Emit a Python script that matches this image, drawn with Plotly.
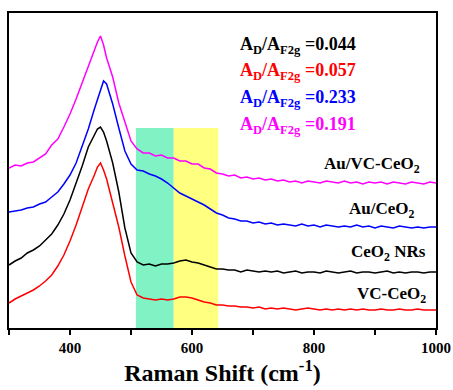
import plotly.graph_objects as go

wavenumber = list(range(300, 450, 10)) + [445, 450, 455, 460] + list(range(470, 1001, 10))

au_vc_ceo2 = [160, 163, 162, 165, 166, 170, 174, 183, 189, 201, 214, 229, 245, 263, 279,
              286, 292, 283, 270,
              251, 225, 206, 187, 179, 175, 175, 172, 173, 170,
              170, 167, 167, 164, 164, 160, 159, 155, 154, 152,
              153, 150, 151, 149, 150, 148, 149, 147, 148, 146,
              147, 145, 147, 146, 145, 147, 146, 145, 147, 145,
              146, 144, 146, 145, 146, 144, 146, 145, 144, 146,
              145, 144, 146, 145]
au_ceo2 = [116, 117, 118, 120, 121, 124, 126, 131, 136, 144, 153, 165, 181, 199, 219,
           228, 238, 247, 244,
           224, 200, 177, 164, 158, 157, 154, 152, 149, 145,
           140, 135, 132, 129, 126, 123, 119, 115, 113, 110,
           109, 107, 107, 105, 106, 104, 105, 103, 104, 103,
           102, 104, 102, 103, 101, 103, 102, 101, 102, 101,
           103, 101, 102, 100, 102, 101, 100, 102, 101, 100,
           101, 100, 101, 101]
ceo2_nrs = [63, 67, 70, 75, 78, 82, 88, 94, 103, 114, 128, 144, 162, 181, 193,
            199, 201, 196, 187,
            165, 136, 100, 75, 66, 63, 64, 62, 64, 64,
            65, 67, 68, 66, 65, 63, 61, 59, 59, 58,
            58, 56, 58, 57, 56, 57, 56, 57, 55, 56,
            57, 55, 56, 56, 55, 57, 56, 55, 56, 57,
            55, 56, 56, 55, 56, 57, 55, 56, 55, 56,
            56, 55, 56, 56]
vc_ceo2 = [25, 29, 32, 35, 38, 42, 47, 53, 62, 73, 87, 103, 122, 139, 153,
           161, 165, 158, 149,
           125, 101, 72, 46, 33, 30, 29, 28, 29, 28,
           29, 31, 31, 30, 28, 26, 25, 23, 23, 22,
           22, 21, 21, 20, 21, 19, 20, 19, 20, 19,
           18, 19, 20, 19, 18, 19, 18, 19, 18, 19,
           18, 19, 18, 18, 19, 18, 18, 19, 18, 18,
           19, 18, 18, 18]

series_names = ["Au/VC-CeO<sub>2</sub>", "Au/CeO<sub>2</sub>", "CeO<sub>2</sub> NRs", "VC-CeO<sub>2</sub>"]
series_colors = ["#FF00FF", "#0000FF", "#000000", "#FF0000"]
series_values = [au_vc_ceo2, au_ceo2, ceo2_nrs, vc_ceo2]

ratio_values = ["0.044", "0.057", "0.233", "0.191"]
ratio_colors = ["#000000", "#FF0000", "#0000FF", "#FF00FF"]

green_band = [508, 570]
yellow_band = [570, 643]
band_top = 200

tick_vals = [300, 400, 500, 600, 700, 800, 900, 1000]
tick_text = ["", "400", "", "600", "", "800", "", "1000"]

FONT = "Liberation Serif, Times New Roman, serif"

fig = go.Figure()

fig.add_shape(type="rect", x0=green_band[0], x1=green_band[1], y0=0, y1=band_top,
              fillcolor="#80F2C4", line_width=0, layer="below")
fig.add_shape(type="rect", x0=yellow_band[0], x1=yellow_band[1], y0=0, y1=band_top,
              fillcolor="#FFFF80", line_width=0, layer="below")

for name, color, vals in zip(series_names, series_colors, series_values):
    fig.add_trace(go.Scatter(x=wavenumber, y=vals, mode="lines", name=name,
                             line=dict(color=color, width=1.5), showlegend=False))

# curve labels
label_pos = [(0.967, 0.517), (0.955, 0.375), (0.981, 0.238), (0.981, 0.105)]
for name, (lx, ly) in zip(series_names, label_pos):
    fig.add_annotation(x=lx, y=ly, xref="paper", yref="paper", text="<b>" + name + "</b>",
                       showarrow=False, xanchor="right", yanchor="middle",
                       font=dict(family=FONT, size=17, color="black"))

# ratio annotations
ratio_y = [0.898, 0.813, 0.730, 0.644]
for val, col, ry in zip(ratio_values, ratio_colors, ratio_y):
    fig.add_annotation(x=0.536, y=ry, xref="paper", yref="paper",
                       text="<b>A<sub>D</sub>/A<sub>F2g</sub> =" + val + "</b>",
                       showarrow=False, xanchor="left", yanchor="middle",
                       font=dict(family=FONT, size=18, color=col))

fig.update_layout(
    width=453, height=390,
    margin=dict(l=9, r=17, t=13, b=62, autoexpand=False),
    paper_bgcolor="white", plot_bgcolor="white",
    font=dict(family=FONT),
    xaxis=dict(range=[300, 1000], tickvals=tick_vals, ticktext=tick_text,
               ticks="outside", ticklen=5, tickwidth=1.5, tickcolor="black",
               showline=True, linecolor="black", linewidth=2, mirror=True,
               showgrid=False, zeroline=False, automargin=False,
               tickfont=dict(family=FONT, size=15, color="black", weight="bold"),
               title=dict(text="<b>Raman Shift (cm<sup>-1</sup>)</b>",
                          font=dict(family=FONT, size=24, color="black"), standoff=9)),
    yaxis=dict(range=[0, 315], showticklabels=False, ticks="",
               showline=True, linecolor="black", linewidth=2, mirror=True,
               showgrid=False, zeroline=False, automargin=False),
)

fig.write_html("out.html", config={"displayModeBar": False},
               post_script="document.body.style.margin='0';document.body.style.padding='0';")
